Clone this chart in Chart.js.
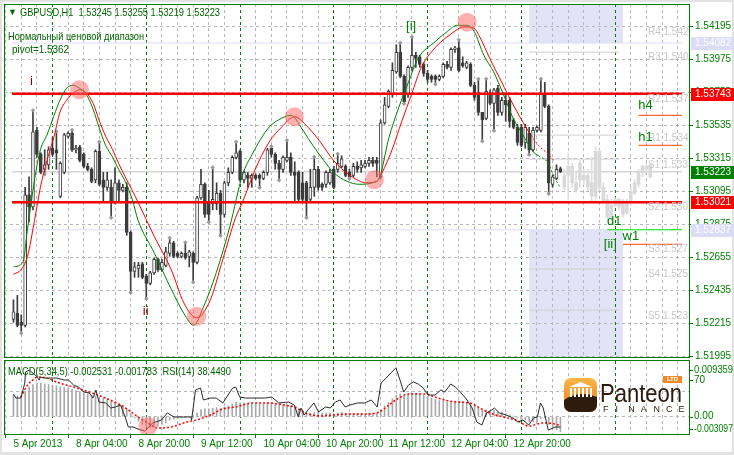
<!DOCTYPE html>
<html>
<head>
<meta charset="utf-8">
<title>GBPUSD,H1</title>
<script src="https://cdn.jsdelivr.net/npm/chart.js@4.4.1/dist/chart.umd.min.js"></script>
<style>
  html, body { margin: 0; padding: 0; background: #e2e2e2; }
  #wrap { position: relative; width: 734px; height: 455px; overflow: hidden; }
  canvas { position: absolute; left: 0; }
  #price { top: 0; }
  #osc { top: 360px; }
</style>
</head>
<body>
<div id="wrap">
  <canvas id="price" width="734" height="360"></canvas>
  <canvas id="osc" width="734" height="95"></canvas>
</div>
<script>
// ---- H1 candles, bar 0 = 5 Apr 12:00 ----
const candleOpen = [
  1.5224,1.5228,1.5222,1.5220,1.5307,1.5299,1.5350,1.5334,1.5324,1.5327,
  1.5338,1.5337,1.5306,1.5322,1.5346,1.5348,1.5337,1.5339,1.5334,1.5326,
  1.5324,1.5317,1.5336,1.5317,1.5312,1.5312,1.5302,1.5315,1.5310,1.5312,
  1.5282,1.5256,1.5258,1.5261,1.5253,1.5248,1.5255,1.5264,1.5257,1.5260,
  1.5268,1.5275,1.5268,1.5266,1.5268,1.5266,1.5268,1.5262,1.5305,1.5314,
  1.5302,1.5301,1.5301,1.5308,1.5294,1.5315,1.5322,1.5332,1.5336,1.5317,
  1.5320,1.5318,1.5320,1.5320,1.5318,1.5322,1.5338,1.5334,1.5328,1.5324,
  1.5330,1.5332,1.5322,1.5322,1.5315,1.5315,1.5304,1.5312,1.5324,1.5314,
  1.5314,1.5315,1.5324,1.5324,1.5326,1.5326,1.5322,1.5320,1.5326,1.5325,
  1.5326,1.5328,1.5330,1.5330,1.5319,1.5355,1.5366,1.5374,1.5389,1.5402,
  1.5386,1.5374,1.5392,1.5400,1.5399,1.5394,1.5388,1.5386,1.5386,1.5384,
  1.5386,1.5394,1.5392,1.5404,1.5405,1.5395,1.5392,1.5394,1.5380,1.5375,
  1.5362,1.5358,1.5375,1.5368,1.5378,1.5362,1.5370,1.5370,1.5357,1.5352,
  1.5352,1.5342,1.5348,1.5337,1.5350,1.5350,1.5374,1.5366,1.5314,1.5318,
  1.53245
];
const candleHigh = [
  1.5237,1.5240,1.5227,1.5312,1.5319,1.5363,1.5352,1.5335,1.5337,1.5339,
  1.5345,1.5349,1.5329,1.5348,1.5349,1.5350,1.5340,1.5340,1.5335,1.5328,
  1.5325,1.5337,1.5342,1.5322,1.5322,1.5317,1.5325,1.5317,1.5314,1.5315,
  1.5283,1.5262,1.5262,1.5262,1.5254,1.5256,1.5265,1.5265,1.5264,1.5272,
  1.5278,1.5276,1.5269,1.5269,1.5275,1.5270,1.5269,1.5306,1.5324,1.5315,
  1.5310,1.5325,1.5315,1.5310,1.5316,1.5325,1.5333,1.5342,1.5337,1.5323,
  1.5322,1.5321,1.5321,1.5321,1.5323,1.5338,1.5339,1.5335,1.5330,1.5333,
  1.5343,1.5335,1.5329,1.5323,1.5322,1.5316,1.5324,1.5332,1.5326,1.5315,
  1.5323,1.5324,1.5326,1.5334,1.5333,1.5327,1.5324,1.5328,1.5329,1.5330,
  1.5330,1.5332,1.5332,1.5332,1.5357,1.5372,1.5377,1.5395,1.5407,1.5408,
  1.5387,1.5393,1.5412,1.5402,1.5400,1.5395,1.5390,1.5387,1.5387,1.5387,
  1.5395,1.5396,1.5405,1.5406,1.5410,1.5399,1.5396,1.5395,1.5382,1.5384,
  1.5362,1.5384,1.5377,1.5378,1.5380,1.5372,1.5374,1.5372,1.5358,1.5354,
  1.5354,1.5354,1.5352,1.5352,1.5353,1.5384,1.5382,1.5367,1.5320,1.5327,
  1.53255
];
const candleLow = [
  1.5222,1.5219,1.5215,1.5219,1.5289,1.5297,1.5332,1.5321,1.5321,1.5324,
  1.5333,1.5324,1.5305,1.5321,1.5345,1.5336,1.5335,1.5329,1.5325,1.5323,
  1.5315,1.5315,1.5313,1.5302,1.5310,1.5292,1.5301,1.5302,1.5309,1.5280,
  1.5242,1.5252,1.5252,1.5251,1.5238,1.5247,1.5254,1.5256,1.5256,1.5259,
  1.5266,1.5265,1.5265,1.5265,1.5264,1.5259,1.5249,1.5261,1.5304,1.5292,
  1.5289,1.5297,1.5297,1.5280,1.5292,1.5313,1.5321,1.5331,1.5316,1.5315,
  1.5312,1.5312,1.5317,1.5312,1.5317,1.5320,1.5332,1.5324,1.5317,1.5322,
  1.5329,1.5320,1.5302,1.5302,1.5302,1.5292,1.5302,1.5306,1.5310,1.5310,
  1.5312,1.5314,1.5311,1.5322,1.5325,1.5319,1.5318,1.5319,1.5322,1.5322,
  1.5325,1.5326,1.5326,1.5319,1.5318,1.5354,1.5365,1.5372,1.5388,1.5385,
  1.5368,1.5372,1.5390,1.5392,1.5392,1.5386,1.5382,1.5382,1.5381,1.5383,
  1.5385,1.5391,1.5390,1.5402,1.5389,1.5392,1.5391,1.5379,1.5370,1.5360,
  1.5343,1.5357,1.5367,1.5350,1.5360,1.5360,1.5356,1.5352,1.5351,1.5340,
  1.5339,1.5338,1.5334,1.5336,1.5349,1.5349,1.5365,1.5308,1.5312,1.5317,
  1.53219
];
const candleClose = [
  1.5229,1.5220,1.5220,1.5307,1.5299,1.5349,1.5334,1.5322,1.5327,1.5337,
  1.5334,1.5335,1.5328,1.5347,1.5348,1.5337,1.5338,1.5330,1.5326,1.5324,
  1.5316,1.5336,1.5314,1.5312,1.5317,1.5302,1.5315,1.5310,1.5312,1.5282,
  1.5256,1.5259,1.5260,1.5252,1.5248,1.5255,1.5264,1.5257,1.5262,1.5269,
  1.5275,1.5266,1.5266,1.5268,1.5265,1.5269,1.5262,1.5305,1.5314,1.5294,
  1.5294,1.5304,1.5308,1.5294,1.5315,1.5322,1.5332,1.5335,1.5317,1.5322,
  1.5318,1.5320,1.5318,1.5318,1.5322,1.5337,1.5334,1.5328,1.5324,1.5332,
  1.5332,1.5322,1.5320,1.5304,1.5304,1.5302,1.5312,1.5324,1.5312,1.5312,
  1.5322,1.5322,1.5312,1.5328,1.5331,1.5320,1.5319,1.5326,1.5324,1.5327,
  1.5328,1.5330,1.5328,1.5328,1.5355,1.5367,1.5376,1.5390,1.5402,1.5386,
  1.5369,1.5392,1.5400,1.5398,1.5394,1.5388,1.5384,1.5384,1.5384,1.5386,
  1.5394,1.5392,1.5404,1.5405,1.5390,1.5393,1.5395,1.5380,1.5372,1.5362,
  1.5357,1.5376,1.5368,1.5377,1.5362,1.5370,1.5367,1.5356,1.5352,1.5342,
  1.5340,1.5352,1.5337,1.5350,1.5352,1.5374,1.5366,1.5315,1.5319,1.5324,
  1.53223
];

// grey projected bars that follow the last real bar
const projOpen  = [1.5312,1.5320,1.5326,1.5315,1.5317,1.5320,1.5320,1.5315,1.5306,1.5336,1.5312,1.5304,1.5300,1.5304,1.5304,1.5302,1.5295,1.5302,1.5308,1.5314,1.5322,1.5324,1.5319];
const projClose = [1.5320,1.5326,1.5315,1.5310,1.5328,1.5317,1.5312,1.5306,1.5336,1.5312,1.5302,1.5292,1.5292,1.5300,1.5299,1.5294,1.5302,1.5309,1.5315,1.5322,1.5326,1.5326,1.5327];
const projHigh  = [1.5324,1.5335,1.5328,1.5322,1.5330,1.5324,1.5324,1.5332,1.5339,1.5337,1.5315,1.5307,1.5304,1.5305,1.5305,1.5304,1.5304,1.5312,1.5317,1.5324,1.5327,1.5328,1.5328];
const projLow   = [1.5310,1.5304,1.5312,1.5309,1.5312,1.5314,1.5310,1.5302,1.5302,1.5310,1.5301,1.5290,1.5290,1.5299,1.5297,1.5292,1.5294,1.5300,1.5307,1.5312,1.5319,1.5322,1.5318];

const fractalUpIdx   = [5, 11, 15, 22, 40, 44, 51, 57, 66, 70, 77, 83, 99, 102, 114, 119, 121, 135];
const fractalDownIdx = [2, 8, 25, 30, 34, 46, 50, 53, 63, 68, 75, 86, 100, 108, 120, 123, 132, 137];

// smoothed cycle lines [bar, price]
const fastLine = [
  [0,1.5259],[2.4,1.5262],[3.6,1.5284],[5.4,1.5317],[6.9,1.5337],[8.6,1.5347],[10.4,1.5360],[11.9,1.5370],
  [13.6,1.5378],[15.4,1.5380],[16.9,1.5378],[18.6,1.5374],[20.4,1.5364],[21.9,1.5352],[23.6,1.5340],[25.4,1.5332],
  [26.9,1.5324],[28.6,1.5316],[30.4,1.5304],[31.9,1.5290],[36.1,1.5268],[40.4,1.5244],[43.6,1.5228],[46.1,1.5220],
  [48.6,1.5232],[51.9,1.5255],[55.4,1.5286],[58.6,1.5320],[61.1,1.5334],[65.4,1.5352],[67.9,1.5357],[71.1,1.5360],
  [73.6,1.5352],[76.1,1.5342],[79.4,1.5330],[81.9,1.5322],[85.4,1.5316],[88.6,1.5314],[91.9,1.5315],[93.6,1.5318],
  [96.1,1.5345],[98.6,1.5365],[101.1,1.5382],[103.6,1.5398],[107.9,1.5409],[111.1,1.5416],[113.6,1.5420],[116.1,1.5420],
  [117.9,1.5416],[120.4,1.5400],[122.9,1.5389],[125.4,1.5374],[127.9,1.5358],[130.4,1.5347],[132.9,1.5336],[134.4,1.5333],
  [136.6,1.5329],[138.6,1.5318],[139.9,1.5312]
];
const slowLine = [
  [0,1.5254],[1.9,1.5257],[3.6,1.5266],[5.4,1.5290],[6.9,1.5312],[8.6,1.5330],[10.4,1.5346],[11.9,1.5362],
  [13.6,1.5370],[15.4,1.5375],[16.9,1.5377],[18.6,1.5375],[20.4,1.5368],[21.9,1.5357],[23.6,1.5346],[25.4,1.5337],
  [26.9,1.5328],[28.6,1.5319],[30.4,1.5310],[31.9,1.5302],[36.1,1.5279],[40.4,1.5257],[43.6,1.5235],[46.9,1.5225],
  [50.4,1.5237],[53.6,1.5264],[56.9,1.5292],[58.6,1.5302],[61.9,1.5324],[65.4,1.5342],[68.6,1.5352],[71.9,1.5359],
  [75.4,1.5352],[78.6,1.5342],[81.9,1.5330],[86.1,1.5320],[90.4,1.5315],[92.9,1.5316],[94.4,1.5322],[96.9,1.5337],
  [99.4,1.5356],[101.9,1.5374],[104.4,1.5392],[107.9,1.5405],[111.9,1.5414],[115.4,1.5419],[117.9,1.5418],[119.4,1.5412],
  [121.9,1.5398],[124.4,1.5385],[126.9,1.5372],[129.4,1.5360],[131.9,1.5349],[134.4,1.5340],[136.9,1.5334],[138.6,1.5329]
];

// turning-point markers [bar, price]
const turnPoints = [[16.9,1.5377],[46.9,1.5226],[71.9,1.5359],[92.4,1.5317],[116.1,1.5422]];

// levels
const rangeLevels = [1.53743, 1.53021];
const bidPrice = 1.53223;
const zoneUpper = 1.54082;
const zoneLower = 1.52837;
const zoneFromBar = 132, zoneToBar = 156;
const pivotSegValues = [1.54021, 1.53468, 1.53308, 1.52575, 1.52301];
const pivotSegFrom = 132, pivotSegTo = 155;
const pivotText  = ['R4 1.542','R3 1.540','R2 1.537','R1 1.534','S1 1.533','S2 1.530','S3 1.527','S4 1.525','S5 1.523'];
const pivotPrice = [1.54155, 1.53988, 1.53708, 1.53448, 1.53268, 1.52988, 1.52708, 1.52541, 1.52261];
const pivotLabelBar = 162.4;
const tfNames  = ['h4', 'h1', 'd1', 'w1'];
const tfValues = [1.5360, 1.5340, 1.52837, 1.5274];
const tfFromBar = [160, 160, 152, 156];

const waveText  = ['i', 'ii', '[i]', '[ii]', 'h4', 'h1', 'd1', 'w1'];
const waveBar   = [4.25, 33.1, 100.5, 151.1, 159.9, 159.9, 151.9, 155.9];
const wavePrice = [1.53828, 1.52295, 1.54191, 1.52741, 1.53668, 1.53455, 1.52895, 1.52795];

const priceTicks = [1.54195,1.53975,1.53755,1.53535,1.53315,1.53095,1.52875,1.52655,1.52435,1.52215,1.51995];
const tagValues = [1.54082, 1.53743, 1.53223, 1.53021, 1.52837];

const xTickIdx  = [0, 16, 32, 48, 64, 80, 96, 112, 128];
const xTickText = ['5 Apr 2013','8 Apr 04:00','8 Apr 20:00','9 Apr 12:00','10 Apr 04:00','10 Apr 20:00','11 Apr 12:00','12 Apr 04:00','12 Apr 20:00'];
const dayBreakIdx = [12, 36, 60, 84, 108, 132, 156];

// ---- MACD(5,34,5) + RSI(14) ----
const macdMain = [
  0.0036,0.0035,0.0034,0.0042,0.0050,0.0054,0.0056,0.0056,0.0055,0.0054,
  0.0053,0.0052,0.0050,0.0049,0.0048,0.0046,0.0044,0.0042,0.0040,0.0038,
  0.0036,0.0035,0.0033,0.0031,0.0029,0.0026,0.0024,0.0021,0.0019,0.0014,
  0.0005,-0.0002,-0.0008,-0.0013,-0.0017,-0.0019,-0.0018,-0.0016,-0.0013,-0.0010,
  -0.0006,-0.0004,-0.0003,-0.0002,-0.0001,0.0000,-0.0001,0.0006,0.0012,0.0013,
  0.0013,0.0014,0.0015,0.0014,0.0016,0.0018,0.0021,0.0024,0.0023,0.0023,
  0.0022,0.0022,0.0021,0.0021,0.0021,0.0023,0.0023,0.0022,0.0020,0.0020,
  0.0020,0.0018,0.0016,0.0012,0.0009,0.0006,0.0006,0.0007,0.0007,0.0006,
  0.0006,0.0006,0.0005,0.0006,0.0007,0.0006,0.0005,0.0005,0.0005,0.0005,
  0.0005,0.0006,0.0006,0.0005,0.0012,0.0018,0.0024,0.0030,0.0036,0.0038,
  0.0036,0.0037,0.0039,0.0039,0.0038,0.0036,0.0034,0.0031,0.0029,0.0027,
  0.0026,0.0025,0.0026,0.0026,0.0026,0.0025,0.0024,0.0021,0.0018,0.0014,
  0.0011,0.0011,0.0010,0.0010,0.0008,0.0007,0.0005,0.0003,0.0001,-0.0002,
  -0.0005,-0.0006,-0.0009,-0.0009,-0.0009,-0.0003,-0.0002,-0.0013,-0.0019,-0.0022,-0.002531
];
const macdSignal = [
  [1.9,0.00329],[3.6,0.00531],[4.9,0.00615],[6.1,0.00665],[8.6,0.00648],[11.1,0.00581],[15.4,0.00497],[19.4,0.00413],
  [23.6,0.00312],[26.9,0.00212],[29.4,0.00111],[31.9,-0.00007],[34.4,-0.00108],[36.9,-0.00192],[40.4,-0.00175],[44.4,-0.00091],
  [46.9,-0.00057],[50.4,0.00027],[53.6,0.00128],[56.9,0.00161],[61.1,0.00228],[65.4,0.00228],[69.4,0.00195],[71.9,0.00161],
  [75.4,0.00044],[78.6,0.00010],[81.9,0.00027],[86.1,0.00044],[90.4,0.00044],[93.6,0.00077],[96.1,0.00195],[98.6,0.00312],
  [101.1,0.00379],[105.4,0.00379],[107.9,0.00329],[110.4,0.00279],[113.6,0.00245],[116.9,0.00228],[119.4,0.00144],[121.9,0.00060],
  [125.4,-0.00007],[128.6,-0.00057],[131.9,-0.00158],[135.4,-0.00108],[139.4,-0.00141],[140,-0.001783]
];
const rsiLine = [
  [0,60.6],[0.6,57.9],[1.9,57.9],[2.9,68.0],[3.1,75.4],[4.1,76.7],[4.9,74.7],[5.6,73.4],[6.6,70.0],[6.9,72.0],
  [7.9,71.3],[9.4,71.3],[11.1,71.3],[12.9,70.0],[14.1,70.0],[15.4,66.6],[16.6,65.3],[18.1,61.9],[19.4,61.3],[20.4,57.9],
  [21.1,63.3],[21.9,55.2],[23.6,54.6],[24.9,51.2],[26.1,51.9],[27.4,53.2],[28.6,45.2],[29.4,38.5],[30.6,38.5],[31.9,37.1],
  [33.6,35.8],[34.4,37.8],[35.6,41.1],[37.9,43.2],[39.4,47.9],[41.1,45.2],[43.6,45.2],[45.4,45.2],[45.6,43.2],[46.6,63.3],
  [47.9,64.6],[48.6,56.6],[50.4,57.9],[51.9,57.9],[53.6,54.6],[56.1,64.6],[56.9,65.3],[57.9,58.6],[59.4,57.9],[64.4,57.9],
  [66.1,58.6],[67.9,54.6],[70.4,55.2],[71.9,53.2],[72.9,45.2],[73.6,51.2],[74.4,46.5],[75.4,49.9],[76.9,54.6],[78.1,48.5],
  [79.9,51.9],[81.1,51.2],[82.4,55.2],[83.6,56.6],[84.9,51.9],[86.1,53.2],[88.1,54.6],[89.9,54.6],[91.6,56.6],[93.1,51.9],
  [94.1,68.0],[95.4,71.3],[96.6,74.7],[97.9,78.1],[99.1,68.7],[99.9,61.9],[101.1,66.6],[102.4,68.7],[103.6,67.3],[104.9,64.6],
  [106.1,59.9],[107.9,59.9],[109.4,63.3],[110.4,61.9],[111.9,67.3],[113.1,65.3],[114.4,61.9],[116.1,56.6],[117.4,51.2],[118.6,41.8],
  [119.9,39.8],[121.1,47.9],[122.4,49.9],[123.1,51.2],[124.4,47.9],[126.1,46.5],[127.9,44.5],[129.1,41.8],[130.4,43.2],[131.9,39.8],
  [133.1,44.5],[134.1,45.2],[134.9,54.6],[135.6,51.2],[136.9,36.4],[138.6,38.4],[139.9,38.449]
];
const oscTurnPoint = [[34.4, -0.0017]];

// ---- layout / style ----
const GREEN = '#008000';
const TEXT_GREEN = '#006400';
const GRID = '#b8b8b8';
const FONT = '"Liberation Sans", Arial, sans-serif';
const X_MIN = -0.375, X_MAX = 171.125;
const PRICE_MIN = 1.51982, PRICE_MAX = 1.54342;
const MACD_MIN = -0.003097, MACD_MAX = 0.009359;
const RSI_MIN = 33.1, RSI_MAX = 82.75;

const gridIdx = [];
for (let i = 0; i <= 168; i += 4) gridIdx.push(i);

const pairs = (arr) => arr.map((p) => ({ x: p[0], y: p[1] }));
const hline = (v, from, to) => [{ x: from, y: v }, { x: to, y: v }];

// squeeze a caption into the width it takes in the terminal font
const fitText = (ctx, text, x, y, width) => {
  const w = ctx.measureText(text).width;
  ctx.save();
  ctx.translate(x, y);
  ctx.scale(Math.min(1, width / w), 1);
  ctx.fillText(text, 0, 0);
  ctx.restore();
};

const xAxis = (withLabels) => ({
  type: 'linear',
  min: X_MIN,
  max: X_MAX,
  afterBuildTicks: (s) => { s.ticks = gridIdx.map((v) => ({ value: v })); },
  afterFit: (s) => { s.height = withLabels ? 20 : 0; s.paddingLeft = 0; s.paddingRight = 0; },
  grid: {
    color: (c) => (c.tick && dayBreakIdx.includes(c.tick.value) ? GREEN : GRID),
    drawTicks: withLabels,
    tickLength: 3,
    tickColor: (c) => (c.tick && xTickIdx.includes(c.tick.value) ? GREEN : 'rgba(0,0,0,0)'),
  },
  border: { display: false, dash: [3, 3] },
  ticks: {
    display: withLabels,
    autoSkip: false,
    maxRotation: 0,
    minRotation: 0,
    align: 'start',
    padding: 0,
    color: GREEN,
    font: { family: FONT, size: 10 },
    callback: (v) => {
      const k = xTickIdx.indexOf(v);
      return k >= 0 ? xTickText[k] : '';
    },
  },
});

// ---- price chart ----
const realIdx = candleOpen.map((v, i) => i);
const projStart = candleOpen.length;

const priceDecor = {
  id: 'priceDecor',
  beforeDraw(chart) {
    const { ctx, chartArea: a, scales: { x, y } } = chart;
    ctx.save();
    ctx.fillStyle = '#ffffff';
    ctx.fillRect(2, 2, 730, chart.height - 2);
    ctx.fillStyle = '#e3e3f8';
    const x0 = x.getPixelForValue(zoneFromBar);
    const x1 = x.getPixelForValue(zoneToBar);
    const yu = y.getPixelForValue(zoneUpper);
    const yl = y.getPixelForValue(zoneLower);
    ctx.fillRect(x0, a.top, x1 - x0, yu - a.top);
    ctx.fillRect(x0, yl, x1 - x0, a.bottom - yl);
    ctx.restore();
  },
  afterDraw(chart) {
    const { ctx, chartArea: a, scales: { x, y } } = chart;
    ctx.save();
    // faint pivot captions, cut by the price axis
    ctx.beginPath();
    ctx.rect(a.left, a.top, a.right - a.left, a.bottom - a.top);
    ctx.clip();
    ctx.font = '10px ' + FONT;
    ctx.fillStyle = '#c9c9c9';
    ctx.textBaseline = 'middle';
    pivotText.forEach((t, k) => {
      ctx.fillText(t, x.getPixelForValue(pivotLabelBar), y.getPixelForValue(pivotPrice[k]));
    });
    // wave and timeframe labels
    waveText.forEach((t, k) => {
      const dark = t === 'i' || t === 'ii';
      ctx.font = '13px ' + FONT;
      ctx.fillStyle = dark ? '#8b0000' : GREEN;
      ctx.fillText(t, x.getPixelForValue(waveBar[k]), y.getPixelForValue(wavePrice[k]));
    });
    ctx.restore();

    ctx.save();
    ctx.strokeStyle = GREEN;
    ctx.lineWidth = 1;
    ctx.strokeRect(a.left + 0.5, a.top + 0.5, a.right - a.left - 1, a.bottom - a.top - 1);

    ctx.fillStyle = TEXT_GREEN;
    ctx.textBaseline = 'middle';
    ctx.font = '9px ' + FONT;
    ctx.fillText('\u25BC', 8, 13);
    ctx.font = '11px ' + FONT;
    fitText(ctx, 'GBPUSD,H1  1.53245 1.53255 1.53219 1.53223', 20, 13, 200);
    fitText(ctx, 'Нормальный ценовой диапазон', 8, 37, 136);
    fitText(ctx, 'pivot=1.5362', 12, 50, 57);

    // price tags on the axis
    const tagFill = ['#dcdcf6', '#ff0000', GREEN, '#ff0000', '#dcdcf6'];
    ctx.font = '10px ' + FONT;
    tagValues.forEach((v, k) => {
      const py = Math.round(y.getPixelForValue(v));
      ctx.fillStyle = tagFill[k];
      ctx.fillRect(a.right + 1, py - 6, 43, 13);
      ctx.fillStyle = '#ffffff';
      ctx.fillText(v.toFixed(5), a.right + 5, py + 0.5);
    });
    ctx.restore();
  },
};

const priceChart = new Chart(document.getElementById('price'), {
  type: 'bar',
  data: {
    datasets: [
      {
        type: 'scatter', order: 1,
        data: pairs(turnPoints),
        pointRadius: 9.5, pointHoverRadius: 9.5,
        backgroundColor: 'rgba(255,100,100,0.5)', borderWidth: 0,
      },
      {
        type: 'line', order: 2,
        data: pairs(fastLine),
        borderColor: '#008000', borderWidth: 1, pointRadius: 0,
        cubicInterpolationMode: 'monotone',
        segment: { borderDash: (c) => (c.p0.parsed.x >= 133 ? [2, 2] : undefined) },
      },
      {
        type: 'line', order: 3,
        data: pairs(slowLine),
        borderColor: '#ff0000', borderWidth: 1, pointRadius: 0,
        cubicInterpolationMode: 'monotone',
        segment: { borderDash: (c) => (c.p0.parsed.x >= 131 ? [2, 2] : undefined) },
      },
      ...rangeLevels.map((v) => ({
        type: 'line', order: 4,
        data: hline(v, X_MIN, X_MAX),
        borderColor: '#ff0000', borderWidth: 2.5, pointRadius: 0,
      })),
      ...tfNames.map((n, k) => ({
        type: 'line', order: 5,
        data: hline(tfValues[k], tfFromBar[k], X_MAX),
        borderColor: n === 'd1' ? '#00ee00' : '#ff4500', borderWidth: 1, pointRadius: 0,
      })),
      {
        type: 'scatter', order: 6,
        data: fractalUpIdx.map((i) => ({ x: i, y: candleHigh[i] + 0.00003 }))
          .concat(fractalDownIdx.map((i) => ({ x: i, y: candleLow[i] - 0.00003 }))),
        pointStyle: 'rectRot', pointRadius: 2.2, pointHoverRadius: 2.2,
        backgroundColor: '#9a9a9a', borderWidth: 0,
      },
      {
        label: 'bodies', order: 7,
        data: realIdx.map((i) => ({ x: i, y: [candleOpen[i], candleClose[i]] })),
        backgroundColor: realIdx.map((i) => (candleClose[i] >= candleOpen[i] ? '#ffffff' : '#3c3c3c')),
        borderColor: '#3c3c3c', borderWidth: 1, borderSkipped: false,
        barThickness: 3, grouped: false, minBarLength: 1,
      },
      {
        label: 'wicks', order: 8,
        data: realIdx.map((i) => ({ x: i, y: [candleLow[i], candleHigh[i]] })),
        backgroundColor: '#3c3c3c', borderWidth: 0,
        barThickness: 1, grouped: false,
      },
      {
        label: 'proj bodies', order: 9,
        data: projOpen.map((o, k) => ({ x: projStart + k, y: [o, projClose[k]] })),
        backgroundColor: '#d9d9d9', borderWidth: 0,
        barThickness: 3, grouped: false, minBarLength: 1,
      },
      {
        label: 'proj wicks', order: 10,
        data: projOpen.map((o, k) => ({ x: projStart + k, y: [projLow[k], projHigh[k]] })),
        backgroundColor: '#dedede', borderWidth: 0,
        barThickness: 1, grouped: false,
      },
      ...pivotSegValues.map((v) => ({
        type: 'line', order: 11,
        data: hline(v, pivotSegFrom, pivotSegTo),
        borderColor: '#cfcfcf', borderWidth: 1, pointRadius: 0,
      })),
      {
        type: 'line', order: 12,
        data: hline(bidPrice, X_MIN, X_MAX),
        borderColor: '#c0c0c0', borderWidth: 1, pointRadius: 0,
      },
      ...[zoneUpper, zoneLower].map((v) => ({
        type: 'line', order: 13,
        data: hline(v, X_MIN, X_MAX),
        borderColor: '#dcdcf4', borderWidth: 1, pointRadius: 0,
      })),
    ],
  },
  options: {
    responsive: false,
    animation: false,
    events: [],
    layout: { autoPadding: false, padding: { left: 4, top: 4, right: 0, bottom: 2 } },
    plugins: { legend: { display: false }, tooltip: { enabled: false } },
    scales: {
      x: xAxis(false),
      y: {
        position: 'right',
        min: PRICE_MIN,
        max: PRICE_MAX,
        afterBuildTicks: (s) => { s.ticks = priceTicks.map((v) => ({ value: v })); },
        afterFit: (s) => { s.width = 44; s.paddingTop = 0; s.paddingBottom = 0; },
        grid: { color: GRID, drawTicks: true, tickLength: 3, tickColor: GREEN },
        border: { display: false, dash: [3, 3] },
        ticks: {
          color: GREEN, padding: 2,
          font: { family: FONT, size: 10 },
          callback: (v) => Number(v).toFixed(5),
        },
      },
    },
  },
  plugins: [priceDecor],
});

// ---- oscillator window ----
const oscDecor = {
  id: 'oscDecor',
  beforeDraw(chart) {
    const { ctx } = chart;
    ctx.save();
    ctx.fillStyle = '#ffffff';
    ctx.fillRect(2, 0, 730, chart.height - 3);
    ctx.restore();
  },
  afterDraw(chart) {
    const { ctx, chartArea: a, scales: { y, rsi } } = chart;
    ctx.save();
    ctx.strokeStyle = GREEN;
    ctx.lineWidth = 1;
    ctx.strokeRect(a.left + 0.5, a.top - 0.5, a.right - a.left - 1, a.bottom - a.top);

    ctx.fillStyle = TEXT_GREEN;
    ctx.textBaseline = 'middle';
    ctx.font = '11px ' + FONT;
    fitText(ctx, 'MACD(5,34,5) -0.002531 -0.001783  RSI(14) 38.4490', 8, a.top + 11, 223);

    // right-hand scale captions
    ctx.fillStyle = GREEN;
    ctx.font = '10px ' + FONT;
    const caps = [
      [MACD_MAX.toFixed(6), a.top + 9],
      ['70', rsi.getPixelForValue(70)],
      ['0.00', y.getPixelForValue(0)],
      [MACD_MIN.toFixed(6), a.bottom - 6],
    ];
    caps.forEach(([t, py]) => {
      fitText(ctx, t, a.right + 4, py, 39);
      ctx.fillRect(a.right, Math.round(py), 3, 1);
    });

    // Panteon Finance logo
    const lx = 564, ly = 18;
    ctx.save();
    ctx.beginPath();
    ctx.roundRect(lx, ly, 33, 34, 7);
    ctx.clip();
    const g = ctx.createLinearGradient(lx, ly, lx, ly + 34);
    g.addColorStop(0, '#fbb548');
    g.addColorStop(1, '#ea7d16');
    ctx.fillStyle = g;
    ctx.fillRect(lx, ly, 33, 34);
    ctx.fillStyle = '#2e1b0d';
    ctx.beginPath();
    ctx.moveTo(lx, ly + 22);
    ctx.quadraticCurveTo(lx + 16, ly + 12, lx + 33, ly + 19);
    ctx.lineTo(lx + 33, ly + 34);
    ctx.lineTo(lx, ly + 34);
    ctx.closePath();
    ctx.fill();
    ctx.fillStyle = '#ffffff';
    ctx.beginPath();
    ctx.moveTo(lx + 5, ly + 9);
    ctx.lineTo(lx + 16.5, ly + 4);
    ctx.lineTo(lx + 28, ly + 9);
    ctx.closePath();
    ctx.fill();
    for (let k = 0; k < 6; k++) ctx.fillRect(lx + 6 + k * 4, ly + 10, 2, 9);
    ctx.restore();

    ctx.fillStyle = '#2a1a0e';
    ctx.font = '26px ' + FONT;
    ctx.textBaseline = 'alphabetic';
    const w = ctx.measureText('Panteon').width;
    ctx.save();
    ctx.translate(600, 42);
    ctx.scale(82 / w, 1);
    ctx.fillText('Panteon', 0, 0);
    ctx.restore();
    ctx.font = '9px ' + FONT;
    'FINANCE'.split('').forEach((ch, k) => ctx.fillText(ch, 603 + k * 12.6, 52));
    ctx.fillStyle = '#f08a2a';
    ctx.fillRect(663, 16, 19, 7);
    ctx.fillStyle = '#ffffff';
    ctx.font = 'bold 6px ' + FONT;
    ctx.textAlign = 'center';
    ctx.textBaseline = 'middle';
    ctx.fillText('LTD', 672.5, 19.7);
    ctx.restore();
  },
};

const oscChart = new Chart(document.getElementById('osc'), {
  type: 'bar',
  data: {
    datasets: [
      {
        type: 'scatter', order: 1, yAxisID: 'y',
        data: pairs(oscTurnPoint),
        pointRadius: 9.5, pointHoverRadius: 9.5,
        backgroundColor: 'rgba(255,100,100,0.5)', borderWidth: 0,
      },
      {
        type: 'line', order: 2, yAxisID: 'rsi',
        data: pairs(rsiLine),
        borderColor: '#2a2a2a', borderWidth: 1, pointRadius: 0, tension: 0,
      },
      {
        type: 'line', order: 3, yAxisID: 'y',
        data: pairs(macdSignal),
        borderColor: '#ff0000', borderWidth: 1.5, borderDash: [2, 2],
        pointRadius: 0, cubicInterpolationMode: 'monotone',
      },
      {
        label: 'MACD', order: 4, yAxisID: 'y',
        data: macdMain.map((v, i) => ({ x: i, y: v })),
        backgroundColor: '#a8a8a8', borderWidth: 0,
        barThickness: 1, grouped: false,
      },
    ],
  },
  options: {
    responsive: false,
    animation: false,
    events: [],
    layout: { autoPadding: false, padding: { left: 4, top: 1, right: 0, bottom: 0 } },
    plugins: { legend: { display: false }, tooltip: { enabled: false } },
    scales: {
      x: xAxis(true),
      y: {
        position: 'right',
        min: MACD_MIN,
        max: MACD_MAX,
        afterBuildTicks: (s) => { s.ticks = [{ value: 0 }, { value: 0.0042 }]; },
        afterFit: (s) => { s.width = 44; s.paddingTop = 0; s.paddingBottom = 0; },
        grid: { color: GRID, drawTicks: false },
        border: { display: false, dash: [3, 3] },
        ticks: { display: false },
      },
      rsi: {
        position: 'right',
        display: false,
        min: RSI_MIN,
        max: RSI_MAX,
      },
    },
  },
  plugins: [oscDecor],
});
</script>
</body>
</html>
